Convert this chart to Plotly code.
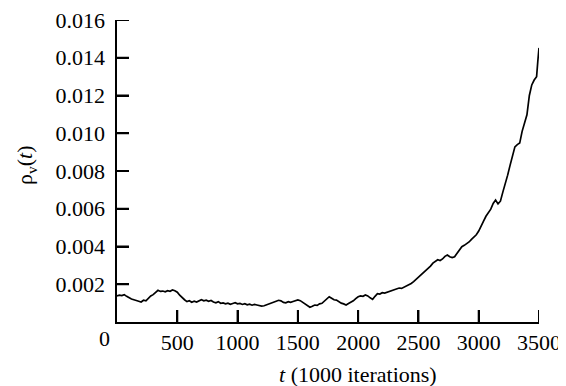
import plotly.graph_objects as go

t_vals = [0, 20, 40, 60, 80, 100, 120, 140, 160, 180, 200, 220, 240, 260, 280, 300, 320, 340, 360, 380,
          400, 420, 440, 460, 480, 500, 520, 540, 560, 580, 600, 620, 640, 660, 680, 700, 720, 740, 760, 780,
          800, 820, 840, 860, 880, 900, 920, 940, 960, 980, 1000, 1020, 1040, 1060, 1080, 1100, 1120, 1140, 1160, 1180,
          1200, 1220, 1240, 1260, 1280, 1300, 1320, 1340, 1360, 1380, 1400, 1420, 1440, 1460, 1480, 1500, 1520, 1540, 1560, 1580,
          1600, 1620, 1640, 1660, 1680, 1700, 1720, 1740, 1760, 1780, 1800, 1820, 1840, 1860, 1880, 1900, 1920, 1940, 1960, 1980,
          2000, 2020, 2040, 2060, 2080, 2100, 2120, 2140, 2160, 2180, 2200, 2220, 2240, 2260, 2280, 2300, 2320, 2340, 2360, 2380,
          2400, 2420, 2440, 2460, 2480, 2500, 2520, 2540, 2560, 2580, 2600, 2620, 2640, 2660, 2680, 2700, 2720, 2740, 2760, 2780,
          2800, 2820, 2840, 2860, 2880, 2900, 2920, 2940, 2960, 2980, 3000, 3020, 3040, 3060, 3080, 3100, 3120, 3140, 3160, 3180,
          3200, 3220, 3240, 3260, 3280, 3300, 3320, 3340, 3360, 3380, 3400, 3420, 3440, 3460, 3480, 3490, 3500]

rho_vals = [0.00138, 0.00142, 0.00140, 0.00145, 0.00136, 0.00128, 0.00122, 0.00118, 0.00112, 0.00110,
            0.00106, 0.00115, 0.00112, 0.00126, 0.00138, 0.00145, 0.00158, 0.00168, 0.00162, 0.00164,
            0.00160, 0.00166, 0.00163, 0.00170, 0.00166, 0.00158, 0.00142, 0.00128, 0.00118, 0.00108,
            0.00113, 0.00105, 0.00110, 0.00106, 0.00114, 0.00118, 0.00112, 0.00116, 0.00110, 0.00114,
            0.00106, 0.00102, 0.00108, 0.00099, 0.00101, 0.00096, 0.00100, 0.00094, 0.00098, 0.00102,
            0.00096, 0.00098, 0.00093, 0.00097, 0.00091, 0.00094, 0.00089, 0.00093, 0.00090, 0.00088,
            0.00084, 0.00086, 0.00090, 0.00097, 0.00102, 0.00106, 0.00110, 0.00115, 0.00112, 0.00104,
            0.00102, 0.00108, 0.00104, 0.00109, 0.00112, 0.00117, 0.00113, 0.00104, 0.00094, 0.00084,
            0.00078, 0.00083, 0.00090, 0.00088, 0.00096, 0.00099, 0.00110, 0.00122, 0.00134, 0.00126,
            0.00118, 0.00116, 0.00106, 0.00100, 0.00096, 0.00090, 0.00098, 0.00104, 0.00112, 0.00124,
            0.00134, 0.00138, 0.00136, 0.00143, 0.00138, 0.00128, 0.00120, 0.00136, 0.00150, 0.00148,
            0.00155, 0.00153, 0.00158, 0.00162, 0.00168, 0.00172, 0.00176, 0.00180, 0.00178, 0.00184,
            0.00188, 0.00196, 0.00204, 0.00214, 0.00226, 0.00234, 0.00250, 0.00258, 0.00270, 0.00284,
            0.00296, 0.00312, 0.00323, 0.00330, 0.00326, 0.00334, 0.00348, 0.00355, 0.00346, 0.00341,
            0.00346, 0.00362, 0.00384, 0.00399, 0.00406, 0.00415, 0.00424, 0.00438, 0.00450, 0.00462,
            0.00482, 0.00505, 0.00534, 0.00560, 0.00582, 0.00598, 0.00628, 0.00646, 0.00626, 0.00640,
            0.00688, 0.00728, 0.00778, 0.00830, 0.00880, 0.00928, 0.00940, 0.00948, 0.01010, 0.01060,
            0.01098, 0.01200, 0.01256, 0.01282, 0.01300, 0.01380, 0.01452]

y_ticks = [0.002, 0.004, 0.006, 0.008, 0.010, 0.012, 0.014, 0.016]
y_tick_labels = ["0.002 ", "0.004 ", "0.006 ", "0.008 ", "0.010 ", "0.012 ", "0.014 ", "0.016 "]
x_ticks = [500, 1000, 1500, 2000, 2500, 3000, 3500]
x_tick_labels = ["500", "1000", "1500", "2000", "2500", "3000", "3500"]

FONT = "Liberation Serif"
FS = 22

# page body has an 8px margin; figure sized to fit the window
W, H = 558, 378
L, R, T, B = 109, 27, 12, 64
pw = W - L - R
ph = H - T - B
X_RANGE = [0, 3500]
Y_RANGE = [0, 0.016]
TICK_PX = 12

def px_x(sx):
    return (sx - 8 - L) / pw

def px_y(sy):
    return (H - B - (sy - 8)) / ph

fig = go.Figure()
fig.add_trace(go.Scatter(x=t_vals, y=rho_vals, mode="lines",
                         line=dict(color="black", width=1.7), showlegend=False,
                         hoverinfo="skip"))

# inward tick marks drawn as a line trace at the axis tick positions
dy = TICK_PX / ph * (Y_RANGE[1] - Y_RANGE[0])
dx = TICK_PX / pw * (X_RANGE[1] - X_RANGE[0])
tx, ty = [], []
for xv in x_ticks:
    tx += [xv, xv, None]
    ty += [Y_RANGE[0], Y_RANGE[0] + dy, None]
for yv in y_ticks:
    tx += [X_RANGE[0], X_RANGE[0] + dx, None]
    ty += [yv, yv, None]
fig.add_trace(go.Scatter(x=tx, y=ty, mode="lines", line=dict(color="black", width=2),
                         showlegend=False, hoverinfo="skip", cliponaxis=False))

fig.update_layout(
    width=W, height=H,
    margin=dict(l=L, r=R, t=T, b=B, autoexpand=False),
    paper_bgcolor="white", plot_bgcolor="white",
    font=dict(family=FONT, size=FS, color="black"),
)
common = dict(ticks="inside", ticklen=TICK_PX, tickwidth=2, tickcolor="black",
              showline=True, linecolor="black", linewidth=2,
              showgrid=False, zeroline=False, ticklabeloverflow="allow")
fig.update_xaxes(range=X_RANGE, tickmode="array", tickvals=x_ticks, ticktext=x_tick_labels, **common)
fig.update_yaxes(range=Y_RANGE, tickmode="array", tickvals=y_ticks, ticktext=y_tick_labels, **common)

fig.add_annotation(text="0", x=0, y=0, xref="x", yref="y", showarrow=False,
                   xanchor="center", yanchor="top", xshift=-13, yshift=-2,
                   font=dict(family=FONT, size=FS))
fig.add_annotation(text="ρ<sub>v</sub>(<i>t</i>)", x=px_x(26), y=px_y(166),
                   xref="paper", yref="paper", showarrow=False, textangle=-90,
                   xanchor="center", yanchor="middle", font=dict(family=FONT, size=FS))
fig.add_annotation(text="<i>t</i> (1000 iterations)", x=px_x(358), y=px_y(375),
                   xref="paper", yref="paper", showarrow=False,
                   xanchor="center", yanchor="middle", font=dict(family=FONT, size=FS))

fig.write_html("out.html")
